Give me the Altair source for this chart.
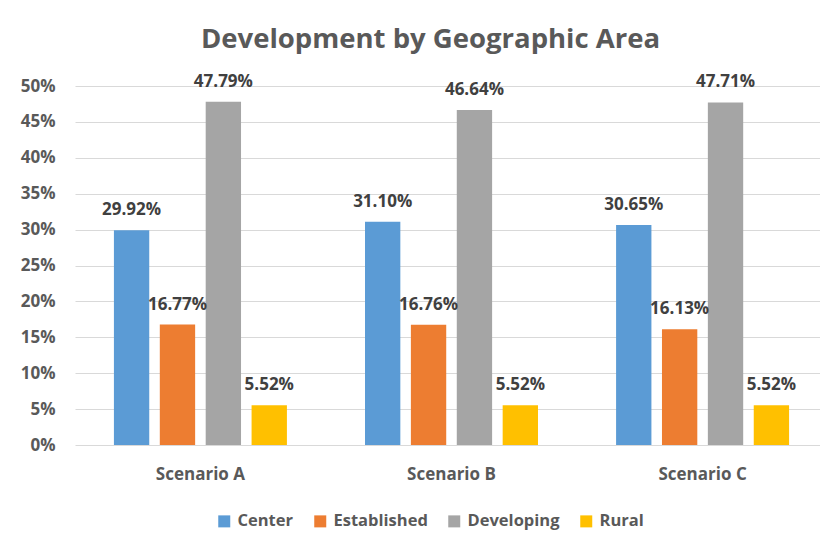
import altair as alt
import pandas as pd

scenarios = ["Scenario A", "Scenario B", "Scenario C"]
areas = ["Center", "Established", "Developing", "Rural"]
center = [0.2992, 0.3110, 0.3065]
established = [0.1677, 0.1676, 0.1613]
developing = [0.4779, 0.4664, 0.4771]
rural = [0.0552, 0.0552, 0.0552]
colors = ["#5B9BD5", "#ED7D31", "#A5A5A5", "#FFC000"]
y_ticks = [0, 0.05, 0.10, 0.15, 0.20, 0.25, 0.30, 0.35, 0.40, 0.45, 0.50]

rows = []
for i, s in enumerate(scenarios):
    for a, vals in zip(areas, [center, established, developing, rural]):
        rows.append({"scenario": s, "area": a, "value": vals[i]})
df = pd.DataFrame(rows)

FONT = "Open Sans"
TXT = "#595959"

x = alt.X(
    "scenario:N", sort=scenarios, title=None,
    scale=alt.Scale(range=[0, 753], paddingInner=0.311, paddingOuter=0.155),
    axis=alt.Axis(labelAngle=0, ticks=False, domain=False, labelPadding=21,
                  labelFontSize=17, labelFont=FONT, labelFontWeight="bold",
                  labelColor=TXT, grid=False),
)
xo = alt.XOffset("area:N", sort=areas,
                 scale=alt.Scale(domain=areas, paddingInner=0.23, paddingOuter=0))
y = alt.Y(
    "value:Q", title=None,
    scale=alt.Scale(domain=[0, 0.5], nice=False),
    axis=alt.Axis(format=".0%", values=y_ticks, grid=True, gridColor="#D9D9D9",
                  gridWidth=1, domain=False, ticks=False, labelPadding=20,
                  labelFontSize=17, labelFont=FONT, labelFontWeight="bold",
                  labelColor=TXT),
)
color = alt.Color(
    "area:N", sort=areas,
    scale=alt.Scale(domain=areas, range=colors),
    legend=alt.Legend(orient="none", direction="horizontal", legendX=141, legendY=427,
                      title=None, symbolType="square", symbolSize=144,
                      symbolStrokeWidth=0, symbolOpacity=1, labelFontSize=16.5,
                      labelFont=FONT, labelFontWeight="bold", labelColor=TXT,
                      columnPadding=18, labelOffset=5),
)

base = alt.Chart(df)
bars = base.mark_bar().encode(x=x, xOffset=xo, y=y, color=color)
labels = base.mark_text(dy=-15, baseline="alphabetic", fontWeight="bold", fontSize=17,
                        font=FONT, color="#404040").encode(
    x=x, xOffset=xo, y=y, text=alt.Text("value:Q", format=".2%"))

chart = (bars + labels).properties(
    width=745, height=359,
    title=alt.Title("Development by Geographic Area", fontSize=27.5, font=FONT,
                    fontWeight="bold", color=TXT, anchor="middle", dx=-17, offset=19),
    autosize=alt.AutoSizeParams(type="none"),
    padding={"left": 67, "top": 78, "right": 0, "bottom": 92},
).configure_view(stroke=None)

chart.save("out.html", embed_options={"renderer": "svg", "actions": False})
